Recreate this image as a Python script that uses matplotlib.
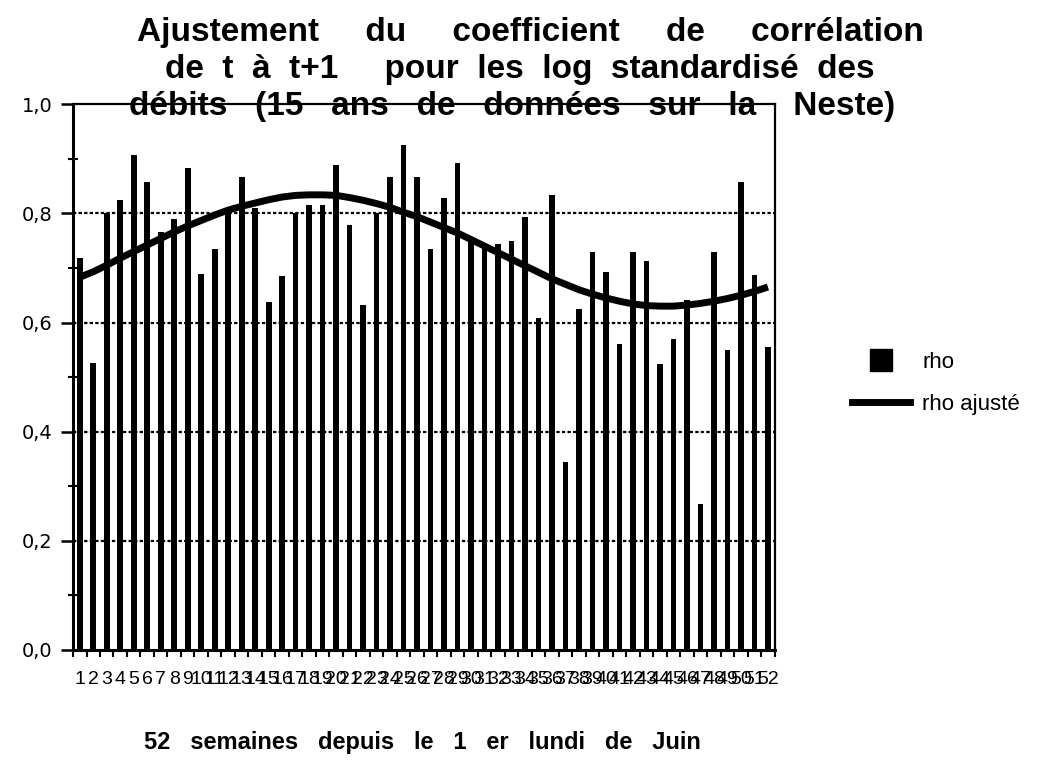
import numpy as np
import matplotlib
matplotlib.use("Agg")
import matplotlib.pyplot as plt
from matplotlib.ticker import MultipleLocator, FixedLocator
from matplotlib.lines import Line2D

plt.rcParams['font.family'] = ['Liberation Sans', 'DejaVu Sans']

# weeks since first Monday of June
weeks = list(range(1, 53))

# rho (lag-1 correlation)
rho = [0.718, 0.526, 0.800, 0.824, 0.907, 0.858, 0.766, 0.789, 0.884, 0.688,
       0.735, 0.800, 0.867, 0.809, 0.638, 0.686, 0.800, 0.816, 0.816, 0.888,
       0.779, 0.633, 0.800, 0.867, 0.926, 0.867, 0.735, 0.829, 0.892, 0.750,
       0.744, 0.744, 0.749, 0.793, 0.608, 0.833, 0.345, 0.625, 0.730, 0.692,
       0.560, 0.730, 0.712, 0.524, 0.570, 0.641, 0.267, 0.730, 0.550, 0.858,
       0.687, 0.555]

# fitted rho (smooth curve)
rho_fit = [0.683, 0.693, 0.705, 0.718, 0.730, 0.742, 0.754, 0.766, 0.777, 0.787,
           0.797, 0.806, 0.813, 0.819, 0.825, 0.830, 0.833, 0.834, 0.834, 0.833,
           0.829, 0.824, 0.818, 0.811, 0.802, 0.794, 0.784, 0.774, 0.764, 0.752,
           0.740, 0.728, 0.716, 0.704, 0.692, 0.680, 0.670, 0.660, 0.652, 0.645,
           0.639, 0.634, 0.631, 0.630, 0.630, 0.632, 0.635, 0.639, 0.644, 0.650,
           0.657, 0.665]

yticks = [0.0, 0.2, 0.4, 0.6, 0.8, 1.0]

fig = plt.figure(figsize=(10.52, 7.61), dpi=100)
ax = fig.add_axes([0.0694, 0.146, 0.667, 0.717])

# dotted grid under the bars
for g in yticks[1:-1]:
    ax.axhline(g, color="black", lw=1.6, ls=(0, (1.5, 1)), zorder=1)

ax.bar(weeks, rho, width=0.42, color="black", zorder=2)
ax.plot(weeks, rho_fit, color="black", lw=5, solid_capstyle="butt", zorder=3)

ax.set_xlim(0.5, 52.5)
ax.set_ylim(0, 1.0)

# y axis : labels every 0.2, small ticks every 0.1
ax.set_yticks(yticks)
ax.set_yticklabels([("%.1f" % v).replace(".", ",") for v in yticks],
                   family="DejaVu Sans")
ax.yaxis.set_minor_locator(MultipleLocator(0.1))
ax.tick_params(axis="y", which="major", direction="out", length=9, width=1.8,
               labelsize=14, pad=6)
ax.tick_params(axis="y", which="minor", direction="inout", length=7, width=1.5)

# x axis : labels at bar centres, tick marks between bars
ax.set_xticks(weeks)
ax.set_xticklabels([str(w) for w in weeks])
ax.xaxis.set_minor_locator(FixedLocator(np.arange(0.5, 53, 1)))
ax.tick_params(axis="x", which="major", length=0, labelsize=14, pad=15)
ax.tick_params(axis="x", which="minor", direction="out", length=5, width=1.5)

for side in ["left", "bottom"]:
    ax.spines[side].set_linewidth(2.2)
for side in ["top", "right"]:
    ax.spines[side].set_linewidth(1.6)

# title, three lines (the last one runs over the top of the frame)
fig.text(530 / 1052, 1 - 41 / 761,
         "Ajustement     du     coefficient     de     corrélation",
         ha="center", va="baseline", fontsize=24, fontweight="bold")
fig.text(520 / 1052, 1 - 78 / 761,
         "de  t  à  t+1     pour  les  log  standardisé  des",
         ha="center", va="baseline", fontsize=24, fontweight="bold")
fig.text(512 / 1052, 1 - 115 / 761,
         "débits   (15   ans   de   données   sur   la    Neste)",
         ha="center", va="baseline", fontsize=24, fontweight="bold")

fig.text(422 / 1052, 1 - 742 / 761,
         "52   semaines   depuis   le   1   er   lundi   de   Juin",
         ha="center", va="center", fontsize=17, fontweight="bold")

# legend
h_rho = Line2D([], [], ls="none", marker="s", ms=16, color="black")
h_fit = Line2D([], [], color="black", lw=5)
fig.legend([h_rho, h_fit], ["rho", "rho ajusté"], loc="upper left",
           bbox_to_anchor=(852 / 1052, 1 - 352 / 761), frameon=False,
           fontsize=16, handlelength=2.6, handletextpad=0.55,
           labelspacing=0.95, borderpad=0, borderaxespad=0)

fig.savefig("out.png", dpi=100)
